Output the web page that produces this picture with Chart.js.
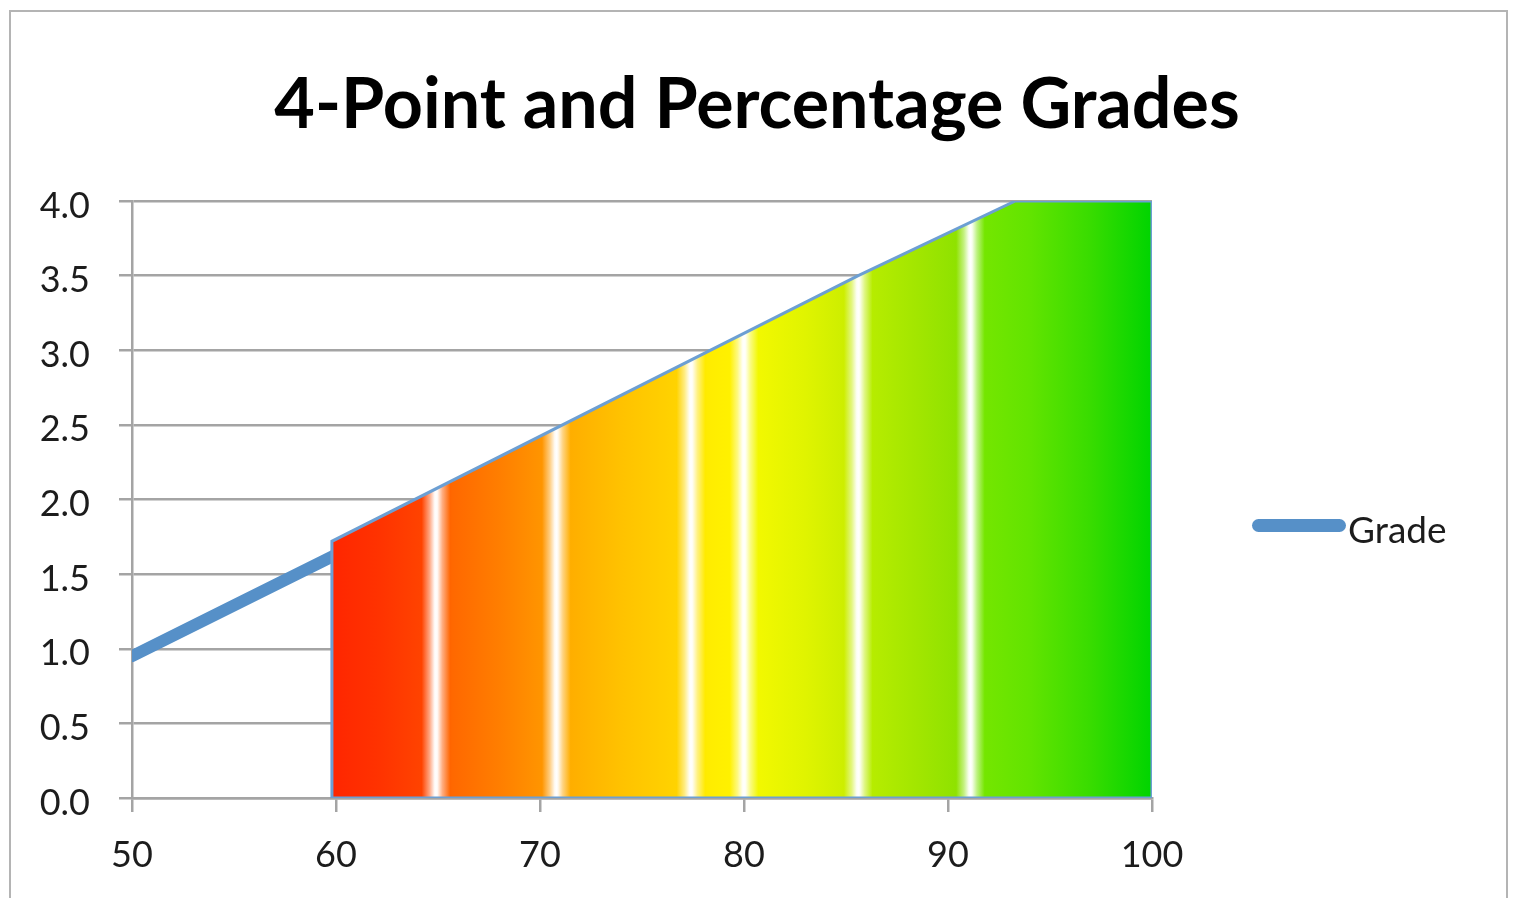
<!DOCTYPE html>
<html>
<head>
<meta charset="utf-8">
<title>4-Point and Percentage Grades</title>
<script src="https://cdn.jsdelivr.net/npm/chart.js@4/dist/chart.umd.min.js"></script>
<style>
  html, body { margin: 0; padding: 0; background: #ffffff; overflow: hidden; }
  #wrap { position: relative; width: 1514px; height: 898px; }
  #frame {
    position: absolute; left: 9px; top: 10px; width: 1499px; height: 900px;
    border: 2.5px solid #b4b4b4; pointer-events: none; box-sizing: border-box;
  }
  canvas { position: absolute; left: 0; top: 0; }
</style>
</head>
<body>
<div id="wrap">
  <canvas id="chart" width="1514" height="898"></canvas>
  <div id="frame"></div>
</div>
<script>
// ---- data ----
const chartTitle = '4-Point and Percentage Grades';
const seriesName = 'Grade';

// percentage -> 4-point value below the passing mark
const lowPercent = [50, 55, 60];
const lowPoints  = [0.95, 1.29, 1.63];

// outline of the passing band (percentage, 4-point value)
const bandPercent = [59.8, 59.8, 85.6, 93.3, 100, 100, 59.8];
const bandPoints  = [0,    1.72, 3.5,  4.0,  4.0, 0,   0];

const xTicks = [50, 60, 70, 80, 90, 100];
const yTicks = [0, 0.5, 1, 1.5, 2, 2.5, 3, 3.5, 4];

// ---- styling ----
const FONT = 'Lato, "Open Sans", sans-serif';
const LINE_BLUE = '#5690c8';
const EDGE_BLUE = '#6c9fd3';
const GRID = '#a4a4a4';
const TEXT = '#1c1c1c';

// colour ramp across the band (percentage, colour)
const rampStops = [
  [59.8, '#ff2600'], [62, '#ff3200'], [64.3, '#ff4400'],
  [65.7, '#ff6800'], [68, '#ff7e00'], [70.2, '#ff9600'],
  [71.5, '#ffae00'], [74, '#ffc200'], [76.8, '#ffd400'],
  [78.2, '#ffec00'], [79.4, '#fff200'],
  [80.7, '#f2f800'], [83, '#e0f400'], [85, '#ccee00'],
  [86.3, '#b6ec00'], [88.5, '#a2e600'], [90.5, '#8ee200'],
  [91.8, '#74e600'], [94, '#62e400'], [97, '#38dc00'], [100, '#00d400']
];
// bright seams across the ramp
const seamAt = [64.9, 70.8, 77.4, 80.0, 85.6, 91.1];
const seamProfile = [[-0.7, 0], [-0.32, 0.5], [-0.08, 0.95], [0, 1], [0.08, 0.95], [0.32, 0.5], [0.7, 0]];

function hexRgb(h) {
  const n = parseInt(h.slice(1), 16);
  return [(n >> 16) & 255, (n >> 8) & 255, n & 255];
}
function rampAt(v) {
  if (v <= rampStops[0][0]) return hexRgb(rampStops[0][1]);
  for (let i = 1; i < rampStops.length; i++) {
    const [v1, c1] = rampStops[i];
    if (v <= v1) {
      const [v0, c0] = rampStops[i - 1];
      const t = (v - v0) / (v1 - v0);
      const a = hexRgb(c0), b = hexRgb(c1);
      return a.map((k, j) => k + (b[j] - k) * t);
    }
  }
  return hexRgb(rampStops[rampStops.length - 1][1]);
}
function toWhite(rgb, w) {
  return 'rgb(' + rgb.map(k => Math.round(k + (255 - k) * w)).join(',') + ')';
}

let cachedGradient = null, cachedKey = '';
function bandGradient(chart) {
  const area = chart.chartArea;
  if (!area) return 'rgba(0,0,0,0)';
  const xs = chart.scales.x;
  const v0 = Math.min(...bandPercent), v1 = Math.max(...bandPercent);
  const x0 = xs.getPixelForValue(v0), x1 = xs.getPixelForValue(v1);
  const key = x0 + ':' + x1;
  if (cachedGradient && cachedKey === key) return cachedGradient;
  const g = chart.ctx.createLinearGradient(x0, 0, x1, 0);
  const stops = [];
  rampStops.forEach(([v, c]) => {
    if (!seamAt.some(s => Math.abs(v - s) < 0.71)) stops.push([v, toWhite(hexRgb(c), 0)]);
  });
  seamAt.forEach(s => {
    seamProfile.forEach(([d, w]) => stops.push([s + d, toWhite(rampAt(s + d), w)]));
  });
  stops.sort((a, b) => a[0] - b[0]);
  stops.forEach(([v, c]) => {
    const t = Math.min(1, Math.max(0, (v - v0) / (v1 - v0)));
    g.addColorStop(t, c);
  });
  cachedGradient = g; cachedKey = key;
  return g;
}

// legend drawn in its own layout box on the right
const LEGEND_WIDTH = 362;
const sideLegend = {
  id: 'sideLegend',
  beforeInit(chart) {
    const box = {
      position: 'right', weight: 10, fullSize: false, options: {},
      left: 0, top: 0, right: 0, bottom: 0, width: 0, height: 0,
      isHorizontal() { return false; },
      update(maxWidth, maxHeight) { this.width = LEGEND_WIDTH; this.height = maxHeight; },
      draw() {
        const ds = chart.data.datasets[0];
        const c = chart.ctx;
        const mid = (this.top + this.bottom) / 2;
        c.save();
        c.strokeStyle = ds.borderColor;
        c.lineWidth = 13;
        c.lineCap = 'round';
        c.beginPath();
        c.moveTo(this.left + 106.5, mid + 26);
        c.lineTo(this.left + 187.5, mid + 26);
        c.stroke();
        c.fillStyle = TEXT;
        c.font = '37px ' + FONT;
        c.textAlign = 'left';
        c.textBaseline = 'middle';
        c.fillText(ds.label, this.left + 196, mid + 32);
        c.restore();
      }
    };
    Chart.layouts.addBox(chart, box);
  }
};

new Chart(document.getElementById('chart'), {
  type: 'scatter',
  data: {
    datasets: [
      {
        label: seriesName,
        data: lowPercent.map((x, i) => ({ x, y: lowPoints[i] })),
        showLine: true,
        borderColor: LINE_BLUE,
        backgroundColor: LINE_BLUE,
        borderWidth: 12,
        borderCapStyle: 'round',
        borderJoinStyle: 'round',
        pointRadius: 0,
        tension: 0,
        clip: 0,
        order: 1
      },
      {
        label: seriesName + ' band',
        data: bandPercent.map((x, i) => ({ x, y: bandPoints[i] })),
        showLine: true,
        fill: 'shape',
        backgroundColor: (c) => bandGradient(c.chart),
        borderColor: EDGE_BLUE,
        borderWidth: 3,
        borderJoinStyle: 'miter',
        pointRadius: 0,
        tension: 0,
        order: 0
      }
    ]
  },
  plugins: [sideLegend],
  options: {
    responsive: false,
    animation: false,
    devicePixelRatio: 1,
    events: [],
    layout: { padding: 0 },
    plugins: {
      legend: { display: false },
      tooltip: { enabled: false },
      title: {
        display: true,
        text: chartTitle,
        color: '#000000',
        font: { family: FONT, size: 70, weight: 'bold', lineHeight: 1.2 },
        padding: { top: 63, bottom: 54 }
      }
    },
    scales: {
      x: {
        type: 'linear',
        min: xTicks[0],
        max: xTicks[xTicks.length - 1],
        afterBuildTicks(scale) { scale.ticks = xTicks.map(v => ({ value: v })); },
        afterFit(scale) { scale.height = 100; },
        grid: { drawOnChartArea: false, drawTicks: true, tickLength: 14, color: GRID, lineWidth: 2.5 },
        border: { display: true, color: GRID, width: 2.5 },
        ticks: {
          autoSkip: false, maxRotation: 0, padding: 22,
          color: TEXT, font: { family: FONT, size: 36 },
          callback: v => String(v)
        }
      },
      y: {
        type: 'linear',
        min: yTicks[0],
        max: yTicks[yTicks.length - 1],
        afterBuildTicks(scale) { scale.ticks = yTicks.map(v => ({ value: v })); },
        afterFit(scale) { scale.width = 132; },
        grid: { drawTicks: true, tickLength: 13, color: GRID, lineWidth: 2.5 },
        border: { display: true, color: GRID, width: 2.5 },
        ticks: {
          padding: 29, labelOffset: 5,
          color: TEXT, font: { family: FONT, size: 36 },
          callback: v => Number(v).toFixed(1)
        }
      }
    }
  }
});
</script>
</body>
</html>
